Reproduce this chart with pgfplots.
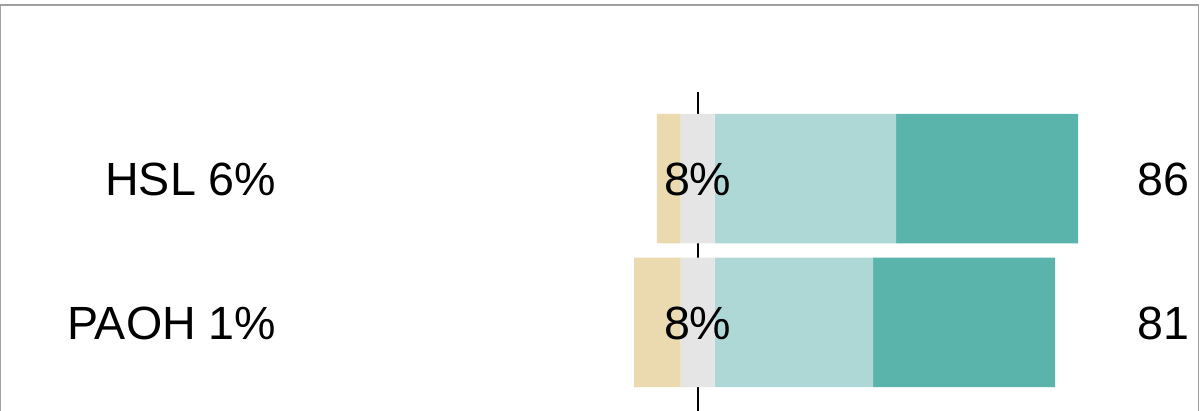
\documentclass[border=0pt]{standalone}
\usepackage{pgfplots}
\pgfplotsset{compat=1.18}
\usepackage{fontspec}
\setmainfont{Liberation Sans}
\definecolor{tanc}{RGB}{235,217,176}
\definecolor{grayc}{RGB}{229,229,229}
\definecolor{ltc}{RGB}{174,216,214}
\definecolor{dkc}{RGB}{91,180,172}
\definecolor{borderc}{RGB}{160,160,160}
\begin{document}
\begin{tikzpicture}
\draw[black, line width=1.1pt] (348.85pt,159.5pt) -- (348.85pt,-10pt);
\begin{axis}[
  xbar stacked,
  stack negative=on previous,
  y dir=reverse,
  ymin=0, ymax=411,
  xmin=-164.55, xmax=118.47,
  hide axis, clip=false,
  scale only axis, width=600pt, height=205.5pt,
  bar width=129.5,
  after end axis/.code={
    \node[anchor=base east, inner sep=0pt, font=\fontsize{23.3}{28}\selectfont] at (axis cs:-99.3,195.5) {HSL 6\%};
    \node[anchor=base east, inner sep=0pt, font=\fontsize{23.3}{28}\selectfont] at (axis cs:-99.3,339.5) {PAOH 1\%};
    \node[anchor=base, inner sep=0pt, font=\fontsize{23.3}{28}\selectfont] at (axis cs:0,195.5) {8\%};
    \node[anchor=base, inner sep=0pt, font=\fontsize{23.3}{28}\selectfont] at (axis cs:0,339.5) {8\%};
    \node[anchor=base west, inner sep=0pt, font=\fontsize{23.3}{28}\selectfont] at (axis cs:103.6,195.5) {86};
    \node[anchor=base west, inner sep=0pt, font=\fontsize{23.3}{28}\selectfont] at (axis cs:103.6,339.5) {81};
  },
]
\addplot[draw=none, fill=none] coordinates {(-9.6,178.75) (-15,322.5)};
\addplot[fill=tanc, draw=none] coordinates {(5.6,178.75) (11,322.5)};
\addplot[fill=grayc, draw=none] coordinates {(8,178.75) (8,322.5)};
\addplot[fill=ltc, draw=none] coordinates {(42.8,178.75) (37.4,322.5)};
\addplot[fill=dkc, draw=none] coordinates {(42.9,178.75) (42.9,322.5)};
\end{axis}
\draw[color=borderc, line width=0.6pt] (0.3pt,-10pt) -- (0.3pt,203pt) -- (599.3pt,203pt) -- (599.3pt,-10pt);
\pgfresetboundingbox
\useasboundingbox (0,0) rectangle (600pt,205.5pt);
\end{tikzpicture}
\end{document}
